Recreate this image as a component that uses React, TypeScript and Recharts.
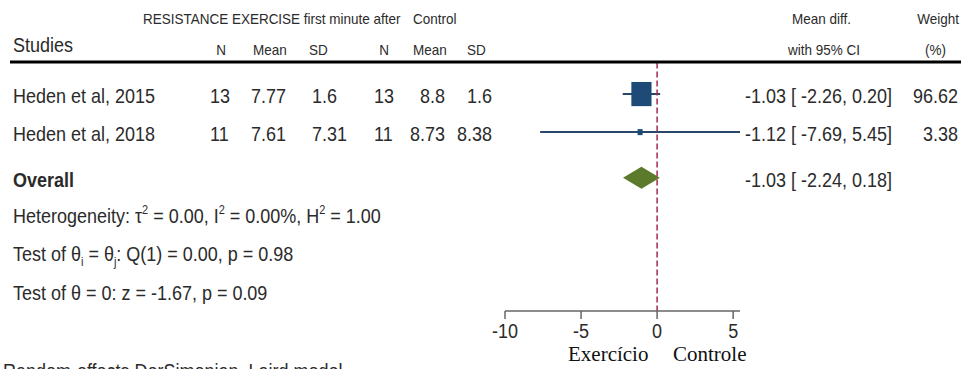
import React from 'react';
import {
  ComposedChart,
  XAxis,
  YAxis,
  Scatter,
  ReferenceLine,
  ReferenceArea,
} from 'recharts';

const studies = ['Heden et al, 2015', 'Heden et al, 2018'];
const exN = ['13', '11'];
const exMean = ['7.77', '7.61'];
const exSD = ['1.6', '7.31'];
const ctN = ['13', '11'];
const ctMean = ['8.8', '8.73'];
const ctSD = ['1.6', '8.38'];
const meanDiff = [-1.03, -1.12];
const ciLow = [-2.26, -7.69];
const ciHigh = [0.2, 5.45];
const weights = [96.62, 3.38];
const overallEst = -1.03;
const overallLow = -2.24;
const overallHigh = 0.18;
const xTicks = [-10, -5, 0, 5];

const fmt = (v: number) => v.toFixed(2);
const ciText = (m: number, lo: number, hi: number) =>
  `${fmt(m)} [ ${fmt(lo)}, ${fmt(hi)}]`;

const points = studies.map((s, i) => ({ x: meanDiff[i], y: i + 1, w: weights[i], name: s }));
const OVERALL_ROW = 3.2;

const SANS = "'Liberation Sans', Arial, sans-serif";
const INK = '#2b2b2b';

function T({ x, y, anchor = 'start', size = 18, bold = false, children }: any) {
  return (
    <text
      transform={`translate(${x},${y}) scale(1,1.15)`}
      textAnchor={anchor}
      fontSize={size}
      fontFamily={SANS}
      fontWeight={bold ? 'bold' : 'normal'}
      fill={INK}
    >
      {children}
    </text>
  );
}

function StudySquare(props: any) {
  const { cx, cy, payload } = props;
  const side = Math.max(5, Math.sqrt(payload.w) * 2.05);
  const h = side * 1.2;
  return <rect x={cx - side / 2} y={cy - h / 2} width={side} height={h} fill="#1d4a77" />;
}

function Diamond(props: any) {
  const { x, y, width, height } = props;
  const mid = x + ((overallEst - overallLow) / (overallHigh - overallLow)) * width;
  const cy = y + height / 2;
  const pts = `${x},${cy} ${mid},${y} ${x + width},${cy} ${mid},${y + height}`;
  return <polygon points={pts} fill="#5b7a2c" />;
}

function Tick(props: any) {
  const { x, y, payload } = props;
  return (
    <text
      transform={`translate(${x},${y + 19}) scale(1,1.15)`}
      textAnchor="middle"
      fontSize={18}
      fontFamily={SANS}
      fill={INK}
    >
      {payload.value}
    </text>
  );
}

export default function App() {
  const rowY = [103, 141];
  return (
    <div style={{ position: 'absolute', left: 0, top: 0, width: 961, height: 369, background: '#fff', overflow: 'hidden' }}>
      <ComposedChart
        width={961}
        height={369}
        data={points}
        margin={{ top: 56, right: 221, bottom: 18, left: 505 }}
      >
        <XAxis
          type="number"
          dataKey="x"
          domain={[-10, 5.45]}
          ticks={xTicks}
          interval={0}
          allowDataOverflow
          height={40}
          stroke="#666"
          strokeWidth={1.5}
          tickSize={8}
          tickMargin={0}
          tick={<Tick />}
        />
        <YAxis type="number" dataKey="y" domain={[0, 6.7]} reversed hide />
        {points.map((p, i) => (
          <ReferenceLine
            key={p.name}
            segment={[
              { x: ciLow[i], y: p.y },
              { x: ciHigh[i], y: p.y },
            ]}
            stroke="#27486b"
            strokeWidth={2}
          />
        ))}
        <ReferenceArea
          x1={overallLow}
          x2={overallHigh}
          y1={OVERALL_ROW - 0.29}
          y2={OVERALL_ROW + 0.29}
          shape={<Diamond />}
        />
        <Scatter dataKey="y" data={points} shape={<StudySquare />} isAnimationActive={false} />
        <ReferenceLine
          segment={[
            { x: 0, y: 0.17 },
            { x: 0, y: 6.7 },
          ]}
          stroke="#a3294f"
          strokeWidth={1.5}
          strokeDasharray="6 3"
        />
      </ComposedChart>

      <svg width={961} height={369} style={{ position: 'absolute', left: 0, top: 0, pointerEvents: 'none' }}>
        {/* header */}
        <T x={143} y={24} size={13.5}>RESISTANCE EXERCISE first minute after</T>
        <T x={413} y={24} size={13.5}>Control</T>
        <T x={792} y={24} size={13.5}>Mean diff.</T>
        <T x={959} y={24} size={13.5} anchor="end">Weight</T>
        <T x={13} y={52}>Studies</T>
        <T x={221} y={55} size={13.5} anchor="middle">N</T>
        <T x={253} y={55} size={13.5}>Mean</T>
        <T x={309} y={55} size={13.5}>SD</T>
        <T x={384} y={55} size={13.5} anchor="middle">N</T>
        <T x={413} y={55} size={13.5}>Mean</T>
        <T x={467} y={55} size={13.5}>SD</T>
        <T x={788} y={55} size={13.5}>with 95% CI</T>
        <T x={925} y={55} size={13.5}>(%)</T>
        <line x1={10} x2={961} y1={62} y2={62} stroke="#000" strokeWidth={3} />

        {/* study rows */}
        {studies.map((s, i) => (
          <g key={s}>
            <T x={13} y={rowY[i]}>{s}</T>
            <T x={210} y={rowY[i]}>{exN[i]}</T>
            <T x={251} y={rowY[i]}>{exMean[i]}</T>
            <T x={312} y={rowY[i]}>{exSD[i]}</T>
            <T x={374} y={rowY[i]}>{ctN[i]}</T>
            <T x={445} y={rowY[i]} anchor="end">{ctMean[i]}</T>
            <T x={492} y={rowY[i]} anchor="end">{ctSD[i]}</T>
            <T x={745} y={rowY[i]}>{ciText(meanDiff[i], ciLow[i], ciHigh[i])}</T>
            <T x={958} y={rowY[i]} anchor="end">{weights[i].toFixed(2)}</T>
          </g>
        ))}

        {/* overall */}
        <T x={13} y={187} bold>Overall</T>
        <T x={745} y={187}>{ciText(overallEst, overallLow, overallHigh)}</T>
        <T x={13} y={223}>
          Heterogeneity: τ<tspan fontSize={11} dy={-8}>2</tspan>
          <tspan dy={8}> = 0.00, I</tspan>
          <tspan fontSize={11} dy={-8}>2</tspan>
          <tspan dy={8}> = 0.00%, H</tspan>
          <tspan fontSize={11} dy={-8}>2</tspan>
          <tspan dy={8}> = 1.00</tspan>
        </T>
        <T x={13} y={261}>
          Test of θ<tspan fontSize={11} dy={4}>i</tspan>
          <tspan dy={-4}> = θ</tspan>
          <tspan fontSize={11} dy={4}>j</tspan>
          <tspan dy={-4}>: Q(1) = 0.00, p = 0.98</tspan>
        </T>
        <T x={13} y={300}>Test of θ = 0: z = -1.67, p = 0.09</T>
        <T x={3} y={378}>Random-effects DerSimonian–Laird model</T>

        <text x={568} y={361} fontSize={21} fontFamily="'Liberation Serif', 'Times New Roman', serif" fill="#111">Exercício</text>
        <text x={673} y={361} fontSize={21} fontFamily="'Liberation Serif', 'Times New Roman', serif" fill="#111">Controle</text>
      </svg>
    </div>
  );
}
